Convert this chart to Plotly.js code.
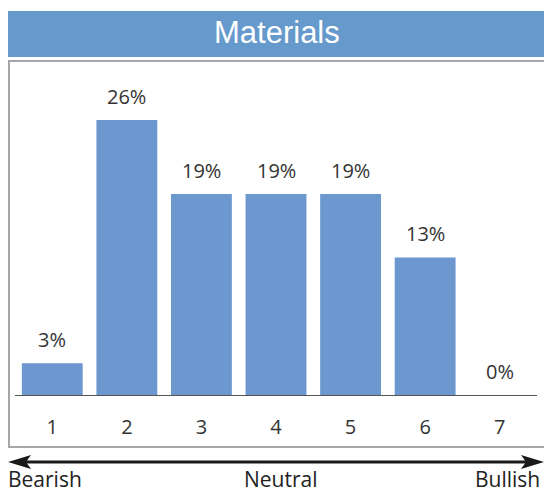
<!DOCTYPE html>
<html>
<head>
<meta charset="utf-8">
<script src="https://cdn.plot.ly/plotly-3.0.1.min.js"></script>
<style>
  html, body { margin: 0; padding: 0; background: #ffffff; }
  #chart { width: 544px; height: 493px; }
</style>
</head>
<body>
<div id="chart"></div>
<script>
// Sentiment score buckets (1 = most bearish, 7 = most bullish)
const categories = ['1', '2', '3', '4', '5', '6', '7'];
// Share of responses in each bucket, in percent
const shares = [3, 26, 19, 19, 19, 13, 0];
const chartTitle = 'Materials';
const scaleLabels = ['Bearish', 'Neutral', 'Bullish'];

const W = 544, H = 493;
// pixel -> paper fraction helpers
const px = v => v / W;
const py = v => 1 - v / H;

const labelFont = { family: 'Open Sans, sans-serif', size: 20, color: '#333333' };
const scaleFont = { family: 'Open Sans, sans-serif', size: 21, color: '#222222' };

const barTrace = {
  type: 'bar',
  x: categories,
  y: shares,
  marker: { color: '#6D97CF', line: { width: 0 } },
  hoverinfo: 'skip'
};

// value labels sit a fixed distance above each bar top
// (category axes place annotations by category index)
const valueLabels = categories.map((c, i) => ({
  x: i, y: shares[i], xref: 'x', yref: 'y',
  text: shares[i] + '%', showarrow: false,
  xanchor: 'center', yanchor: 'middle', yshift: 24,
  font: labelFont
}));

const annotations = valueLabels.concat([
  { x: px(277), y: py(33), xref: 'paper', yref: 'paper', text: chartTitle,
    showarrow: false, xanchor: 'center', yanchor: 'middle',
    font: { family: 'Liberation Sans, Arial, sans-serif', size: 31, color: '#ffffff' } },
  { x: px(6), y: py(479), xref: 'paper', yref: 'paper', text: scaleLabels[0],
    showarrow: false, xanchor: 'left', yanchor: 'middle', font: scaleFont },
  { x: px(281), y: py(479), xref: 'paper', yref: 'paper', text: scaleLabels[1],
    showarrow: false, xanchor: 'center', yanchor: 'middle', font: scaleFont },
  { x: px(542), y: py(479), xref: 'paper', yref: 'paper', text: scaleLabels[2],
    showarrow: false, xanchor: 'right', yanchor: 'middle', font: scaleFont }
]);

const shapes = [
  // title band
  { type: 'rect', xref: 'paper', yref: 'paper', layer: 'below',
    x0: px(8), x1: px(545), y0: py(57), y1: py(11),
    fillcolor: '#6699CC', line: { width: 0 } },
  // frame around the plot
  { type: 'rect', xref: 'paper', yref: 'paper', layer: 'below',
    x0: px(9), x1: px(547), y0: py(447), y1: py(61),
    fillcolor: 'rgba(0,0,0,0)', line: { color: '#A6A6A6', width: 2 } },
  // double-headed scale arrow
  { type: 'line', xref: 'paper', yref: 'paper',
    x0: px(22), x1: px(530), y0: py(462), y1: py(462),
    line: { color: '#1a1a1a', width: 3 } },
  { type: 'path', xref: 'paper', yref: 'paper',
    path: `M ${px(8)} ${py(462)} L ${px(31)} ${py(455)} L ${px(26)} ${py(462)} L ${px(31)} ${py(469)} Z`,
    fillcolor: '#1a1a1a', line: { width: 0 } },
  { type: 'path', xref: 'paper', yref: 'paper',
    path: `M ${px(544)} ${py(462)} L ${px(521)} ${py(455)} L ${px(526)} ${py(462)} L ${px(521)} ${py(469)} Z`,
    fillcolor: '#1a1a1a', line: { width: 0 } }
];

const layout = {
  width: W, height: H, autosize: false,
  margin: { l: 0, r: 0, t: 0, b: 0, pad: 0 },
  paper_bgcolor: '#ffffff', plot_bgcolor: 'rgba(0,0,0,0)',
  showlegend: false,
  bargap: 0.184,
  xaxis: {
    type: 'category',
    domain: [px(15), px(537)],
    range: [-0.5, 6.5],
    showline: true, linecolor: '#555555', linewidth: 1,
    showgrid: false, zeroline: false, ticks: '',
    ticklabelstandoff: 14,
    tickfont: labelFont,
    fixedrange: true
  },
  yaxis: {
    domain: [py(395), py(65)],
    range: [0, 31.2],
    visible: false, showgrid: false, zeroline: false, fixedrange: true
  },
  shapes: shapes,
  annotations: annotations
};

Plotly.newPlot('chart', [barTrace], layout, { displayModeBar: false, staticPlot: true });
</script>
</body>
</html>
